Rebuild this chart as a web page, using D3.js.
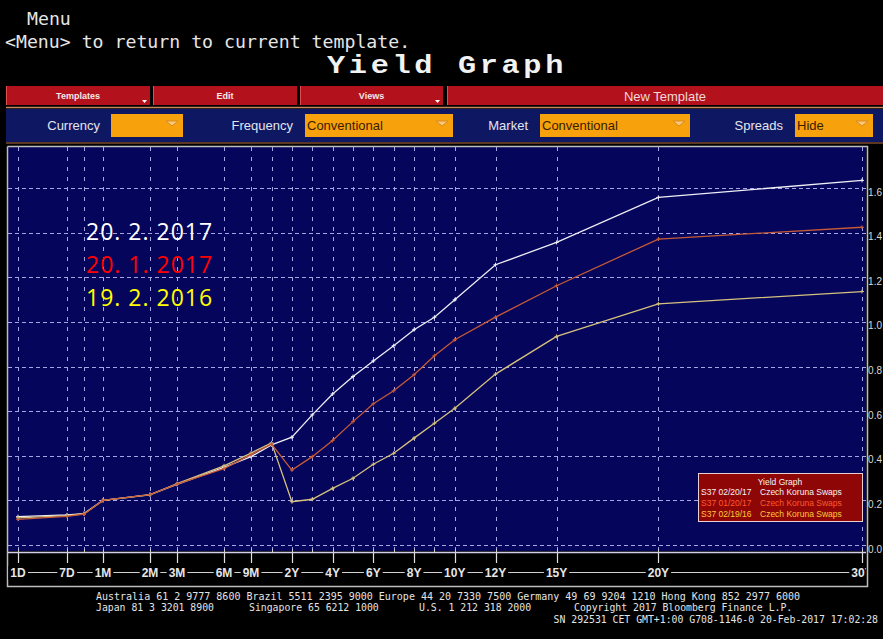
<!DOCTYPE html>
<html><head><meta charset="utf-8">
<script src="https://cdn.jsdelivr.net/npm/d3@7"></script>
<style>html,body{margin:0;padding:0;background:#000;overflow:hidden}</style>
</head><body>
<svg id="c" width="883" height="639"></svg>
<script>
// ---------- data ----------
const tenors = ['1D','1W','2W','1M','2M','3M','6M','9M','1Y','2Y','3Y','4Y','5Y','6Y','7Y','8Y','9Y','10Y','12Y','15Y','20Y','30Y'];
const tenorYears = [1/365,7/365,14/365,1/12,2/12,3/12,0.5,0.75,1,2,3,4,5,6,7,8,9,10,12,15,20,30];
const axisLabels = ['1D','7D','1M','2M','3M','6M','9M','2Y','4Y','6Y','8Y','10Y','12Y','15Y','20Y','30Y'];
const axisLabelYears = [1/365,7/365,1/12,2/12,3/12,0.5,0.75,2,4,6,8,10,12,15,20,30];
const yTicks = [0.0,0.2,0.4,0.6,0.8,1.0,1.2,1.4,1.6];
const yTickLabels = ['0.0','0.2','0.4','0.6','0.8','1.0','1.2','1.4','1.6'];

const curve20Feb2017 = [0.127,0.135,0.141,0.200,0.226,0.272,0.348,0.396,0.449,0.483,0.583,0.677,0.755,0.825,0.893,0.965,1.021,1.099,1.256,1.356,1.558,1.634];
const curve20Jan2017 = [0.115,0.128,0.138,0.200,0.226,0.273,0.342,0.405,0.452,0.336,0.396,0.468,0.553,0.633,0.691,0.763,0.848,0.920,1.021,1.162,1.371,1.424];
const curve19Feb2016 = [0.122,0.132,0.140,0.200,0.225,0.275,0.355,0.412,0.458,0.194,0.205,0.254,0.299,0.362,0.411,0.479,0.546,0.613,0.766,0.935,1.081,1.136];

const seriesNames = ['20. 2. 2017','20. 1. 2017','19. 2. 2016'];
const legendDates = ['S37 02/20/17','S37 01/20/17','S37 02/19/16'];
const legendDesc = 'Czech Koruna Swaps';

// ---------- layout ----------
const svg = d3.select('#c');
const P = {l:8, r:866, t:147, b:551};
// Bloomberg-style warped tenor axis: breakpoints (years) -> fraction of axis span
const xBreakYears = [1/365, 7/365, 14/365, 1/12, 2/12, 0.25, 0.5, 0.75, 1, 30];
const xBreakFrac  = [0, 0.0581, 0.0782, 0.1007, 0.1564, 0.1884, 0.2441, 0.2761, 0.3004, 1];
const ax0 = 18, ax1 = 862;
const x = d3.scaleLinear().domain(xBreakYears).range(xBreakFrac.map(f => ax0 + f*(ax1-ax0)));
const y = d3.scaleLinear().domain([0,1.6]).range([545,188]);

svg.append('rect').attr('width',883).attr('height',639).attr('fill','#000');

// ---------- header ----------
const mono = "'DejaVu Sans Mono', monospace";
svg.append('text').attr('x',27).attr('y',25).attr('fill','#e6e6e6').style('font-family',mono).style('font-size','18.2px').text('Menu');
svg.append('text').attr('x',5).attr('y',48).attr('fill','#e6e6e6').style('font-family',mono).style('font-size','18.2px').text('<Menu> to return to current template.');
svg.append('text').attr('x',327).attr('y',73).attr('fill','#f2f2f2').style('font-family',"'Liberation Mono', monospace").style('font-weight','bold').style('font-size','25px')
  .style('letter-spacing','3px').attr('textLength',240).attr('lengthAdjust','spacingAndGlyphs').text('Yield Graph');

// red button bar
const btns = [
  {x0:6,x1:150,t:'Templates',arrow:true,fs:9,b:true},
  {x0:153,x1:297,t:'Edit',arrow:false,fs:9,b:true},
  {x0:300,x1:443,t:'Views',arrow:true,fs:9,b:true},
  {x0:447,x1:883,t:'New Template',arrow:false,fs:13,b:false}
];
btns.forEach(d=>{
  svg.append('rect').attr('x',d.x0).attr('y',86).attr('width',d.x1-d.x0).attr('height',19).attr('fill','#b3121c');
  svg.append('line').attr('x1',d.x0+0.5).attr('x2',d.x0+0.5).attr('y1',86).attr('y2',105).attr('stroke','#e05050');
  svg.append('text').attr('x',(d.x0+d.x1)/2).attr('y',96).attr('text-anchor','middle').attr('dominant-baseline','central')
    .attr('fill', d.b ? '#f4e8e8' : '#f0d8d8').style('font-family','Liberation Sans, Arial, sans-serif')
    .style('font-size',d.fs+'px').style('font-weight',d.b?'bold':'normal').text(d.t);
  if(d.arrow){
    svg.append('path').attr('d',`M${d.x1-8},100 l5,0 l-2.5,3 z`).attr('fill','#ffffff');
  }
});
svg.append('line').attr('x1',6).attr('x2',883).attr('y1',107.5).attr('y2',107.5).attr('stroke','#c8845a').attr('stroke-width',1.5);

// navy option bar
svg.append('rect').attr('x',6).attr('y',109).attr('width',877).attr('height',33).attr('fill','#0e1862');
svg.append('line').attr('x1',6).attr('x2',883).attr('y1',143).attr('y2',143).attr('stroke','#7a4a30').attr('stroke-width',1.5);
const opts = [
  {lab:'Currency',lx:100,b0:111,b1:183,val:''},
  {lab:'Frequency',lx:293,b0:305,b1:453,val:'Conventional'},
  {lab:'Market',lx:528,b0:540,b1:690,val:'Conventional'},
  {lab:'Spreads',lx:783,b0:795,b1:873,val:'Hide'}
];
opts.forEach(d=>{
  svg.append('text').attr('x',d.lx).attr('y',125.5).attr('text-anchor','end').attr('dominant-baseline','central')
    .attr('fill','#e4e4ee').style('font-family','Liberation Sans, Arial, sans-serif').style('font-size','13px').text(d.lab);
  svg.append('rect').attr('x',d.b0).attr('y',114).attr('width',d.b1-d.b0).attr('height',23).attr('fill','#f7a10c');
  svg.append('text').attr('x',d.b0+2).attr('y',125.5).attr('dominant-baseline','central')
    .attr('fill','#3a1c00').style('font-family','Liberation Sans, Arial, sans-serif').style('font-size','13px').text(d.val);
  svg.append('path').attr('d',`M${d.b1-17},121 l12,0 l-6,5 z`).attr('fill','#fbc878').attr('stroke','#d88a20').attr('stroke-width',1);
});

// ---------- plot ----------
svg.append('rect').attr('x',P.l).attr('y',P.t).attr('width',P.r-P.l).attr('height',P.b-P.t).attr('fill','#05055c');

const grid = svg.append('g');
grid.selectAll('line.h').data(yTicks).join('line')
  .attr('x1',P.l).attr('x2',P.r).attr('y1',d=>Math.round(y(d))+0.5).attr('y2',d=>Math.round(y(d))+0.5)
  .attr('stroke','#a6a6e4').attr('stroke-width',1).attr('stroke-dasharray','4,3');
grid.selectAll('line.v').data(tenorYears).join('line')
  .attr('x1',d=>Math.round(x(d))+0.5).attr('x2',d=>Math.round(x(d))+0.5).attr('y1',P.t).attr('y2',P.b)
  .attr('stroke','#a6a6e4').attr('stroke-width',1).attr('stroke-dasharray','4,6');

// series
const series = [
  {vals:curve20Feb2017, color:'#eeeef4'},
  {vals:curve19Feb2016, color:'#d6c27e'},
  {vals:curve20Jan2017, color:'#c65a36'}
];
const line = d3.line().x((d,i)=>x(tenorYears[i])).y(d=>y(d));
series.forEach(s=>{
  svg.append('path').datum(s.vals).attr('d',line).attr('fill','none').attr('stroke',s.color).attr('stroke-width',1.3);
  svg.append('g').selectAll('path').data(s.vals).join('path')
    .attr('d',(d,i)=>{const px=x(tenorYears[i]), py=y(d); return `M${px-2},${py}h4M${px},${py-2}v4`;})
    .attr('stroke',s.color).attr('stroke-width',1);
});

// annotations
const annColors = ['#ffffff','#ff0000','#ffff00'];
svg.append('g').selectAll('text').data(seriesNames).join('text')
  .attr('x',86).attr('y',(d,i)=>240+i*33).attr('fill',(d,i)=>annColors[i])
  .style('font-family',"'Open Sans', sans-serif").style('font-size','23px').style('letter-spacing','1px').text(d=>d);

// legend
const lg = svg.append('g');
lg.append('rect').attr('x',698.5).attr('y',473.5).attr('width',164).attr('height',48).attr('fill','#8e0606').attr('stroke','#e8d0d0').attr('stroke-width',1);
lg.append('text').attr('x',780).attr('y',482).attr('text-anchor','middle').attr('dominant-baseline','central')
  .attr('fill','#f4f4f4').style('font-family','Liberation Sans, Arial, sans-serif').style('font-size','8.5px').text('Yield Graph');
const legColors = ['#f4f4f4','#ff5a2a','#ffc83a'];
legendDates.forEach((t,i)=>{
  lg.append('text').attr('x',701).attr('y',492+i*10.8).attr('dominant-baseline','central').attr('fill',legColors[i])
    .style('font-family','Liberation Sans, Arial, sans-serif').style('font-size','8.5px').text(t);
  lg.append('text').attr('x',760).attr('y',492+i*10.8).attr('dominant-baseline','central').attr('fill',legColors[i])
    .style('font-family','Liberation Sans, Arial, sans-serif').style('font-size','8.5px').text(legendDesc);
});

// right y labels (sized to fit inside the window)
svg.append('g').selectAll('text').data(yTicks).join('text')
  .attr('x',882).attr('y',d=>y(d)+4).attr('text-anchor','end').attr('dominant-baseline','central').attr('fill','#d8d8d8')
  .style('font-family','Liberation Sans, Arial, sans-serif').style('font-size','10px').text((d,i)=>yTickLabels[i]);

// frame
const fr = svg.append('g').attr('stroke','#bdbdbd').attr('fill','none');
fr.append('path').attr('d',`M7.5,${P.t-0.5}V586.5H867.5V${P.t-0.5}H7.5`).attr('stroke-width',1.5);
fr.append('line').attr('x1',P.l).attr('x2',P.r).attr('y1',P.b+1.5).attr('y2',P.b+1.5).attr('stroke','#d0d0e8').attr('stroke-width',1.5);

// x axis
const xa = svg.append('g');
xa.selectAll('line.mt').data(tenorYears).join('line')
  .attr('x1',d=>Math.round(x(d))+0.5).attr('x2',d=>Math.round(x(d))+0.5).attr('y1',P.b-2).attr('y2',P.b+2).attr('stroke','#d0d0d0');
xa.append('line').attr('x1',ax0).attr('x2',866).attr('y1',572.5).attr('y2',572.5).attr('stroke','#d0d0d0').attr('stroke-width',1);
xa.selectAll('line.tk').data(axisLabelYears).join('line')
  .attr('x1',d=>Math.round(x(d))+0.5).attr('x2',d=>Math.round(x(d))+0.5).attr('y1',P.b+2).attr('y2',563).attr('stroke','#e0e0e0').attr('stroke-width',1.2);
const clip = svg.append('clipPath').attr('id','xc'); clip.append('rect').attr('x',8).attr('y',553).attr('width',858).attr('height',32);
const lbl = xa.append('g').attr('clip-path','url(#xc)');
axisLabels.forEach((t,i)=>{
  const cx = x(axisLabelYears[i]);
  const tx = lbl.append('text').attr('x',cx).attr('y',573).attr('text-anchor','middle').attr('dominant-baseline','central')
    .attr('fill','#e6e6e6').style('font-family','Liberation Sans, Arial, sans-serif').style('font-size','12px').style('font-weight','bold').text(t);
  const bb = tx.node().getBBox();
  lbl.insert('rect','text').attr('x',bb.x-2).attr('y',bb.y).attr('width',bb.width+4).attr('height',bb.height).attr('fill','#000');
});

// footer
const ff = "'DejaVu Sans Mono', monospace";
const foot = svg.append('g').attr('fill','#e4e4e4').style('font-family',ff).style('font-size','9.8px');
foot.append('text').attr('x',96).attr('y',600).attr('textLength',704).attr('lengthAdjust','spacingAndGlyphs')
  .text('Australia 61 2 9777 8600 Brazil 5511 2395 9000 Europe 44 20 7330 7500 Germany 49 69 9204 1210 Hong Kong 852 2977 6000');
[['Japan 81 3 3201 8900',96],['Singapore 65 6212 1000',249],['U.S. 1 212 318 2000',419],['Copyright 2017 Bloomberg Finance L.P.',574]]
  .forEach(([t,px])=>foot.append('text').attr('x',px).attr('y',611).text(t));
foot.append('text').attr('x',878).attr('y',623).attr('text-anchor','end').text('SN 292531 CET  GMT+1:00 G708-1146-0 20-Feb-2017 17:02:28');
</script>
</body></html>
